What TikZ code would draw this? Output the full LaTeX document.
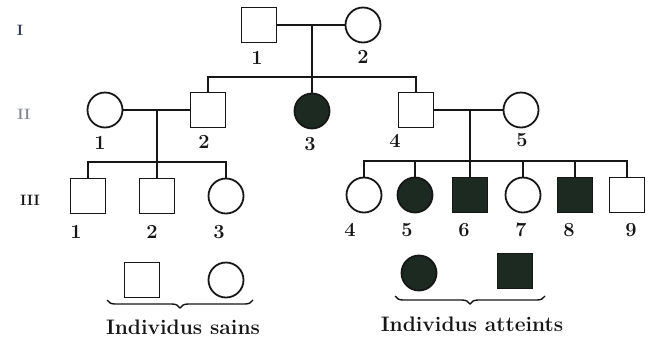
\documentclass[tikz,border=0pt]{standalone}
\usetikzlibrary{decorations.pathreplacing}
\definecolor{ink}{RGB}{22,22,22}
\definecolor{sick}{RGB}{28,42,34}
\definecolor{gentop}{RGB}{40,50,75}
\definecolor{genmid}{RGB}{130,135,145}
\begin{document}
\begin{tikzpicture}[x=1pt,y=-1pt,line width=1.8pt,draw=ink,
  male/.style={draw=ink,rectangle,minimum size=35pt,inner sep=0pt},
  female/.style={draw=ink,circle,minimum size=35pt,inner sep=0pt},
  affected/.style={fill=sick},
  num/.style={font=\fontsize{20}{22}\selectfont\bfseries,text=ink,inner sep=0pt},
  gen/.style={font=\fontsize{15}{17}\selectfont\bfseries,inner sep=0pt},
  caption/.style={font=\fontsize{21}{24}\selectfont\bfseries,text=ink,inner sep=0pt},
  legendbrace/.style={decorate,decoration={brace,mirror,amplitude=8pt},line width=1.4pt}]
\useasboundingbox (0,0) rectangle (653,338);

% generation markers
\node[gen,text=gentop] (gI) at (20,30) {I};
\node[gen,text=genmid] (gII) at (24,114) {II};
\node[gen,text=ink] (gIII) at (30,200) {III};

% generation I
\node[male] (I1) at (259,25) {};
\node[female] (I2) at (363,25) {};

% generation II
\node[female] (II1) at (105,110) {};
\node[male] (II2) at (208,110) {};
\node[female,affected] (II3) at (312,111) {};
\node[male] (II4) at (416,110) {};
\node[female] (II5) at (521,110) {};

% generation III
\node[male] (III1) at (88,196) {};
\node[male] (III2) at (157,196) {};
\node[female] (III3) at (226,196) {};
\node[female] (III4) at (364,195) {};
\node[female,affected] (III5) at (415,195) {};
\node[male,affected] (III6) at (470,195) {};
\node[female] (III7) at (523,195) {};
\node[male,affected] (III8) at (575,195) {};
\node[male] (III9) at (627,195) {};

% couples, descent lines and sibships
\coordinate (m1) at (312,25);
\coordinate (s1) at (312,77);
\draw (I1) -- (I2);
\draw (m1) -- (II3);
\draw (II2) |- (s1) -| (II4);

\coordinate (m2) at (157,110);
\coordinate (s2) at (157,162);
\draw (II1) -- (II2);
\draw (m2) -- (III2);
\draw (III1) |- (s2) -| (III3);

\coordinate (m3) at (470,110);
\coordinate (s3) at (470,161);
\draw (II4) -- (II5);
\draw (m3) -- (III6);
\draw (III4) |- (s3) -| (III9);
\draw (III5) -- (III5 |- s3);
\draw (III7) -- (III7 |- s3);
\draw (III8) -- (III8 |- s3);

% individual numbers
\node[num] (nI1) at (257,58) {1};
\node[num] (nI2) at (363,57) {2};
\node[num] (nII1) at (100,143) {1};
\node[num] (nII2) at (204,142) {2};
\node[num] (nII3) at (310,144) {3};
\node[num] (nII4) at (395,141) {4};
\node[num] (nII5) at (522,140) {5};
\node[num] (nIII1) at (76,232) {1};
\node[num] (nIII2) at (152,232) {2};
\node[num] (nIII3) at (219,232) {3};
\node[num] (nIII4) at (350,230) {4};
\node[num] (nIII5) at (407,230) {5};
\node[num] (nIII6) at (464,230) {6};
\node[num] (nIII7) at (521,230) {7};
\node[num] (nIII8) at (569,230) {8};
\node[num] (nIII9) at (631,230) {9};

% legend
\node[male] (L1) at (142,280) {};
\node[female] (L2) at (226,280) {};
\node[female,affected] (L3) at (419,273) {};
\node[male,affected] (L4) at (515,271) {};
\coordinate (b1a) at (107,300);
\coordinate (b1b) at (253,300);
\coordinate (b2a) at (395,296);
\coordinate (b2b) at (545,296);
\draw[legendbrace] (b1a) -- (b1b);
\draw[legendbrace] (b2a) -- (b2b);
\node[caption] (c1) at (183,327) {Individus sains};
\node[caption] (c2) at (472,324) {Individus atteints};
\end{tikzpicture}
\end{document}
